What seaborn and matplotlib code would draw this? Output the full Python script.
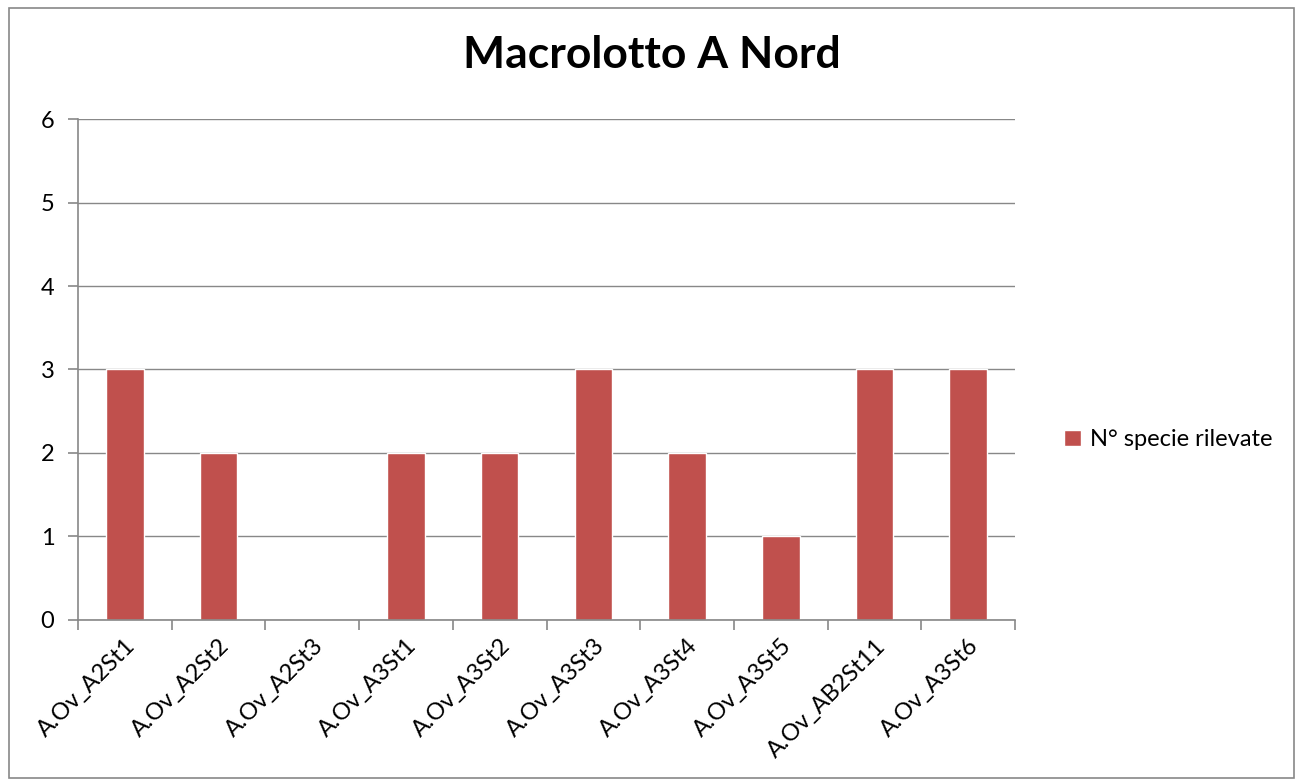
import numpy as np
import pandas as pd
import matplotlib
matplotlib.use("Agg")
import matplotlib.pyplot as plt
import seaborn as sns
from matplotlib.patches import Rectangle

stations = ["A.Ov_A2St1", "A.Ov_A2St2", "A.Ov_A2St3", "A.Ov_A3St1", "A.Ov_A3St2",
            "A.Ov_A3St3", "A.Ov_A3St4", "A.Ov_A3St5", "A.Ov_AB2St11", "A.Ov_A3St6"]
n_species = [3, 2, 0, 2, 2, 3, 2, 1, 3, 3]
series_name = "N° specie rilevate"

df = pd.DataFrame({"station": stations, "value": n_species})

sns.set_style("white")
plt.rcParams["font.family"] = ["Lato", "DejaVu Sans"]
plt.rcParams["text.color"] = "black"

fig = plt.figure(figsize=(13, 7.83), dpi=100)
ax = fig.add_axes([0.06, 0.2082, 0.7208, 0.6398])

sns.barplot(data=df, x="station", y="value", color="#C0504D", saturation=1,
            width=0.4, ax=ax, label=series_name)

ax.set_ylim(0, 6)
ax.set_xlim(-0.5, len(stations) - 0.5)
ax.set_yticks(range(0, 7))
ax.yaxis.grid(True, color="#888888", linewidth=1)
ax.set_axisbelow(True)
for s in ["top", "right"]:
    ax.spines[s].set_visible(False)
for s in ["left", "bottom"]:
    ax.spines[s].set_color("#888888")
    ax.spines[s].set_linewidth(1.2)

# labels centred under bars, tick marks on the category boundaries
ax.set_xticks(np.arange(len(stations)))
ax.set_xticklabels(stations, rotation=45, ha="right", rotation_mode="anchor", fontsize=17)
ax.set_xticks(np.arange(len(stations) + 1) - 0.5, minor=True)
ax.tick_params(axis="x", which="major", length=0, pad=11, labelcolor="black")
ax.tick_params(axis="x", which="minor", length=7, color="#888888", width=1.2, bottom=True)
ax.tick_params(axis="y", length=7, color="#888888", width=1.2, labelsize=17, pad=10, left=True,
               labelcolor="black")
ax.set_xlabel("")
ax.set_ylabel("")

fig.suptitle("Macrolotto A Nord", x=0.5015, y=0.955, fontsize=32, fontweight="bold")

ax.legend(loc="center left", bbox_to_anchor=(1.03, 0.36), frameon=False,
          fontsize=17, handlelength=0.7, handleheight=0.7, handletextpad=0.4)

fig.patches.append(Rectangle((0.007, 0.007), 0.988, 0.983, transform=fig.transFigure,
                             fill=False, edgecolor="#888888", linewidth=1.2))

fig.savefig("out.png", dpi=100)
